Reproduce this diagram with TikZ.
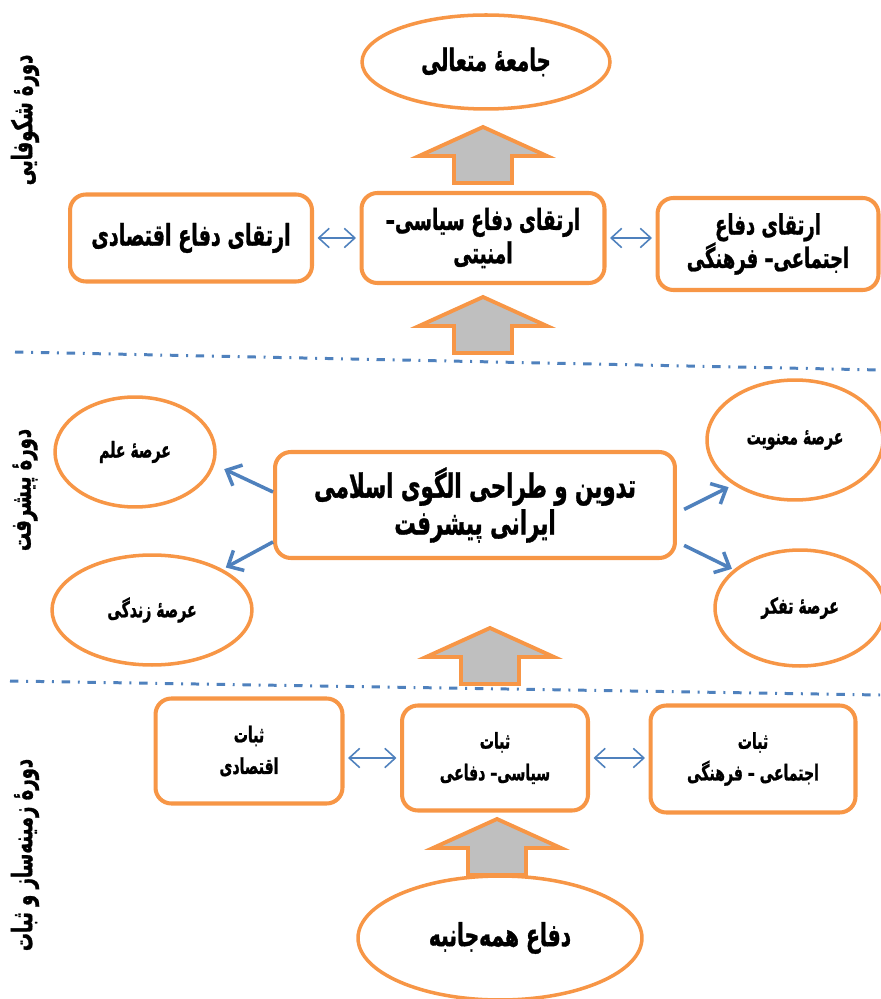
\documentclass[tikz,border=0pt]{standalone}
\usepackage{fontspec}
\newfontfamily\arabicfont[Script=Arabic, FakeStretch=0.64, BoldFeatures={FakeBold=1}]{DejaVu Sans}
\TeXXeTstate=1
\newcommand{\fa}[1]{\beginR #1\endR}
\usetikzlibrary{arrows.meta, shapes.geometric}
\definecolor{DiagOrange}{HTML}{F79646}
\definecolor{DiagBlue}{HTML}{4F81BD}
\definecolor{DiagGrey}{HTML}{BFBFBF}

\begin{document}
\begin{tikzpicture}[
  x=0.02cm, y=-0.02cm,
  box/.style={
    rectangle, rounded corners=9pt, draw=DiagOrange, fill=white,
    line width=2.3pt, align=center, inner sep=2pt
  },
  oval/.style={
    ellipse, draw=DiagOrange, fill=white, line width=2pt,
    align=center, inner sep=0pt
  },
  period/.style={rotate=90, font=\arabicfont\bfseries\fontsize{16}{18}\selectfont},
  pair/.style={{Straight Barb[length=6pt,width=11pt]}-{Straight Barb[length=6pt,width=11pt]},
    line width=0.9pt, color=DiagBlue, shorten <=2pt, shorten >=2pt},
  spoke/.style={-{Straight Barb[length=7pt,width=13pt]}, line width=2pt, color=DiagBlue},
  divider/.style={color=DiagBlue, line width=1.7pt,
    dash pattern=on 4.8pt off 4.4pt on 1.1pt off 4.4pt},
  lift/.style={draw=DiagOrange, fill=DiagGrey, line width=2.2pt, line join=miter},
]
\useasboundingbox (0,0) rectangle (880,999);

\node[period] (p-bloom) at (25,120) {\fa{دورهٔ شکوفایی}};
\node[period] (p-progress) at (25,490) {\fa{دورهٔ پیشرفت}};
\node[period] (p-base) at (25,855) {\fa{دورهٔ زمینه‌ساز و ثبات}};

\draw[divider] (15,352) -- (880,370);
\draw[divider] (10,681) -- (880,695);

\foreach \cx/\ty in {483/127, 483/297, 490/628, 497/819}
  \draw[lift] (\cx-29,\ty+56) -- (\cx-29,\ty+29) -- (\cx-64,\ty+29) -- (\cx,\ty)
    -- (\cx+64,\ty+29) -- (\cx+29,\ty+29) -- (\cx+29,\ty+56) -- cycle;

\node[oval, minimum width=4.96cm, minimum height=1.88cm,
  font=\arabicfont\bfseries\fontsize{17.5}{20}\selectfont] (society) at (486,62) {\fa{جامعهٔ متعالی}};

\node[box, minimum width=4.84cm, minimum height=1.74cm,
  font=\arabicfont\bfseries\fontsize{17}{20}\selectfont] (econ) at (191,238) {\fa{ارتقای دفاع اقتصادی}};
\node[box, minimum width=4.86cm, minimum height=1.8cm,
  font=\arabicfont\bfseries\fontsize{16.5}{19}\selectfont] (secure) at (483,238) {\fa{ارتقای دفاع سیاسی–}\\\fa{امنیتی}};
\node[box, minimum width=4.42cm, minimum height=1.84cm,
  font=\arabicfont\bfseries\fontsize{16}{19}\selectfont] (culture) at (768,244) {\fa{ارتقای دفاع}\\\fa{اجتماعی– فرهنگی}};

\draw[pair] (econ.east) -- (econ.east -| secure.west);
\draw[pair] (secure.east) -- (secure.east -| culture.west);

\node[box, minimum width=8cm, minimum height=2.12cm,
  font=\arabicfont\bfseries\fontsize{19}{21}\selectfont] (plan) at (475,505) {\fa{تدوین و طراحی الگوی اسلامی}\\\fa{ایرانی پیشرفت}};

\node[oval, minimum width=3.2cm, minimum height=2.2cm,
  font=\arabicfont\bfseries\fontsize{12.5}{14}\selectfont] (science) at (135,452) {\fa{عرصهٔ علم}};
\node[oval, minimum width=4cm, minimum height=2.2cm,
  font=\arabicfont\bfseries\fontsize{12.5}{14}\selectfont] (life) at (152,610) {\fa{عرصهٔ زندگی}};
\node[oval, minimum width=3.52cm, minimum height=2.4cm,
  font=\arabicfont\bfseries\fontsize{12.5}{14}\selectfont] (spirit) at (795,440) {\fa{عرصهٔ معنویت}};
\node[oval, minimum width=3.4cm, minimum height=2.32cm,
  font=\arabicfont\bfseries\fontsize{12.5}{14}\selectfont] (thought) at (800,608) {\fa{عرصهٔ تفکر}};

\draw[spoke, shorten >=6pt] ([yshift=7.4pt]plan.west) -- (science.-9);
\draw[spoke, shorten >=2pt] ([yshift=-21pt]plan.west) -- (life.30);
\draw[spoke, shorten <=4.5pt, shorten >=3pt] ([yshift=-4.5pt]plan.east) -- (spirit.216);
\draw[spoke, shorten <=4.5pt, shorten >=1pt] ([yshift=-21pt]plan.east) -- (thought.150);

\node[box, minimum width=3.74cm, minimum height=2.1cm,
  font=\arabicfont\bfseries\fontsize{12.5}{18}\selectfont] (s-econ) at (249,751) {\fa{ثبات}\\\fa{اقتصادی}};
\node[box, minimum width=3.72cm, minimum height=2.1cm,
  font=\arabicfont\bfseries\fontsize{12.5}{18}\selectfont] (s-secure) at (495,758) {\fa{ثبات}\\\fa{سیاسی– دفاعی}};
\node[box, minimum width=4.1cm, minimum height=2.14cm,
  font=\arabicfont\bfseries\fontsize{12.5}{18}\selectfont] (s-culture) at (753,759) {\fa{ثبات}\\\fa{اجتماعی – فرهنگی}};

\draw[pair] (s-secure.west -| s-econ.east) -- (s-secure.west);
\draw[pair] (s-secure.east) -- (s-secure.east -| s-culture.west);

\node[oval, minimum width=5.68cm, minimum height=2.48cm,
  font=\arabicfont\bfseries\fontsize{18}{21}\selectfont] (defence) at (500,938) {\fa{دفاع همه‌جانبه}};
\end{tikzpicture}
\end{document}
